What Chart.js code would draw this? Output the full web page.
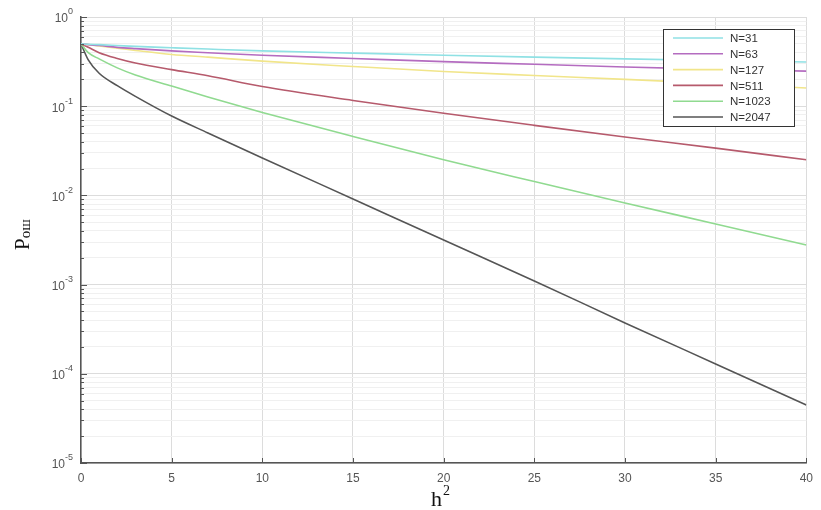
<!DOCTYPE html>
<html>
<head>
<meta charset="utf-8">
<title>Pош vs h²</title>
<script src="https://cdn.jsdelivr.net/npm/chart.js"></script>
<style>
    html, body { margin: 0; padding: 0; background: #fff; }
    #wrap { width: 821px; height: 510px; }
</style>
</head>
<body>
<div id="wrap"><canvas id="errChart" width="821" height="510"></canvas></div>
<script>
    // h^2 sample points
    const hVals = [0, 0.4, 1, 2, 3, 5, 7, 10, 15, 20, 25, 30, 35, 40];

    // error probability for each code length N
    const p31   = [0.5, 0.495, 0.49, 0.479, 0.468, 0.452, 0.437, 0.417, 0.394, 0.373, 0.355, 0.339, 0.325, 0.313];
    const p63   = [0.5, 0.49, 0.479, 0.457, 0.442, 0.417, 0.398, 0.372, 0.343, 0.316, 0.295, 0.275, 0.26, 0.247];
    const p127  = [0.5, 0.49, 0.473, 0.447, 0.422, 0.38, 0.355, 0.32, 0.279, 0.245, 0.221, 0.2, 0.18, 0.16];
    const p511  = [0.5, 0.457, 0.398, 0.343, 0.305, 0.257, 0.219, 0.166, 0.116, 0.0832, 0.061, 0.0452, 0.0339, 0.0251];
    const p1023 = [0.5, 0.398, 0.339, 0.269, 0.224, 0.168, 0.127, 0.0851, 0.0457, 0.0251, 0.0143, 0.00822, 0.00479, 0.00278];
    const p2047 = [0.5, 0.331, 0.234, 0.17, 0.129, 0.0776, 0.0501, 0.0263, 0.00912, 0.00316, 0.0011, 0.000372, 0.000129, 0.0000447];

    const seriesNames = ['N=31', 'N=63', 'N=127', 'N=511', 'N=1023', 'N=2047'];
    const seriesColors = ['#8fe1e4', '#b46cc0', '#f1e58a', '#b65a6c', '#90da90', '#555555'];
    const seriesData = [p31, p63, p127, p511, p1023, p2047];

    const xTicks = [0, 5, 10, 15, 20, 25, 30, 35, 40];
    const decades = [-5, -4, -3, -2, -1, 0];

    // draws inner ticks, y labels with exponents, legend box and axis titles
    const overlay = {
        id: 'overlay',
        afterDraw(chart) {
            const { ctx, chartArea: a, scales: { x, y } } = chart;
            ctx.save();

            ctx.strokeStyle = '#555';
            ctx.lineWidth = 1;
            ctx.beginPath();
            xTicks.forEach(v => {
                const px = Math.round(x.getPixelForValue(v)) + 0.5;
                ctx.moveTo(px, a.bottom);
                ctx.lineTo(px, a.bottom - 5);
            });
            y.ticks.forEach(t => {
                const py = Math.round(y.getPixelForValue(t.value)) + 0.5;
                ctx.moveTo(a.left, py);
                ctx.lineTo(a.left + (t.major ? 6 : 3), py);
            });
            ctx.stroke();

            // y labels: 10^k
            ctx.fillStyle = '#555';
            ctx.textBaseline = 'middle';
            decades.forEach(e => {
                const py = y.getPixelForValue(Math.pow(10, e));
                const exp = String(e);
                ctx.font = '9px "Liberation Sans", Arial, sans-serif';
                const ew = ctx.measureText(exp).width;
                const right = a.left - 8;
                ctx.textAlign = 'left';
                ctx.fillText(exp, right - ew, py - 5);
                ctx.font = '12px "Liberation Sans", Arial, sans-serif';
                ctx.textAlign = 'right';
                ctx.fillText('10', right - ew, py + 2);
            });

            // legend
            const lx = 663.5, ly = 29.5, lw = 131, lh = 97;
            ctx.fillStyle = '#fff';
            ctx.fillRect(lx, ly, lw, lh);
            ctx.strokeStyle = '#333';
            ctx.strokeRect(lx, ly, lw, lh);
            ctx.font = '11.5px "Liberation Sans", Arial, sans-serif';
            ctx.textAlign = 'left';
            chart.data.datasets.forEach((ds, i) => {
                const ry = 38 + i * 15.8;
                ctx.strokeStyle = ds.borderColor;
                ctx.lineWidth = 1.6;
                ctx.beginPath();
                ctx.moveTo(673, ry);
                ctx.lineTo(723, ry);
                ctx.stroke();
                ctx.fillStyle = '#333';
                ctx.fillText(ds.label, 730, ry + 1);
            });

            // x title: h²
            ctx.fillStyle = '#111';
            ctx.textBaseline = 'alphabetic';
            ctx.font = '22px "Liberation Serif", "Times New Roman", serif';
            ctx.fillText('h', 431, 506);
            const hw = ctx.measureText('h').width;
            ctx.font = '14px "Liberation Serif", "Times New Roman", serif';
            ctx.fillText('2', 431 + hw + 1, 495);

            // y title: Pош
            ctx.translate(29, 250);
            ctx.rotate(-Math.PI / 2);
            ctx.font = '21px "Liberation Serif", "Times New Roman", serif';
            ctx.fillText('P', 0, 0);
            const pw = ctx.measureText('P').width;
            ctx.font = '15px "Liberation Serif", "Times New Roman", serif';
            ctx.fillText('ош', pw, 1);

            ctx.restore();
        }
    };

    new Chart(document.getElementById('errChart'), {
        type: 'line',
        data: {
            datasets: seriesData.map((vals, i) => ({
                label: seriesNames[i],
                data: hVals.map((h, j) => ({ x: h, y: vals[j] })),
                borderColor: seriesColors[i],
                borderWidth: 1.6,
                pointRadius: 0,
                cubicInterpolationMode: 'monotone',
                fill: false
            }))
        },
        options: {
            responsive: false,
            animation: false,
            layout: { padding: { top: 17, right: 10, left: 0, bottom: 0 } },
            plugins: {
                legend: { display: false },
                tooltip: { enabled: false }
            },
            scales: {
                x: {
                    type: 'linear',
                    min: 0,
                    max: 40,
                    afterBuildTicks: scale => { scale.ticks = xTicks.map(v => ({ value: v })); },
                    afterFit: scale => { scale.height = 47; },
                    grid: { color: '#dcdcdc', drawTicks: false },
                    border: { color: '#555', width: 1.5 },
                    ticks: {
                        padding: 8,
                        color: '#555',
                        font: { family: '"Liberation Sans", Arial, sans-serif', size: 12 }
                    }
                },
                y: {
                    type: 'logarithmic',
                    min: 1e-5,
                    max: 1,
                    afterBuildTicks: scale => {
                        const t = [];
                        decades.forEach(e => {
                            t.push({ value: Math.pow(10, e), major: true });
                            if (e < 0) {
                                for (let m = 2; m <= 9; m++) t.push({ value: m * Math.pow(10, e), major: false });
                            }
                        });
                        scale.ticks = t;
                    },
                    afterFit: scale => { scale.width = 81; },
                    grid: {
                        drawTicks: false,
                        color: c => (c.tick && c.tick.major) ? '#dcdcdc' : '#f0f0f0'
                    },
                    border: { color: '#555', width: 1.5 },
                    ticks: { display: false, autoSkip: false }
                }
            }
        },
        plugins: [overlay]
    });
</script>
</body>
</html>
